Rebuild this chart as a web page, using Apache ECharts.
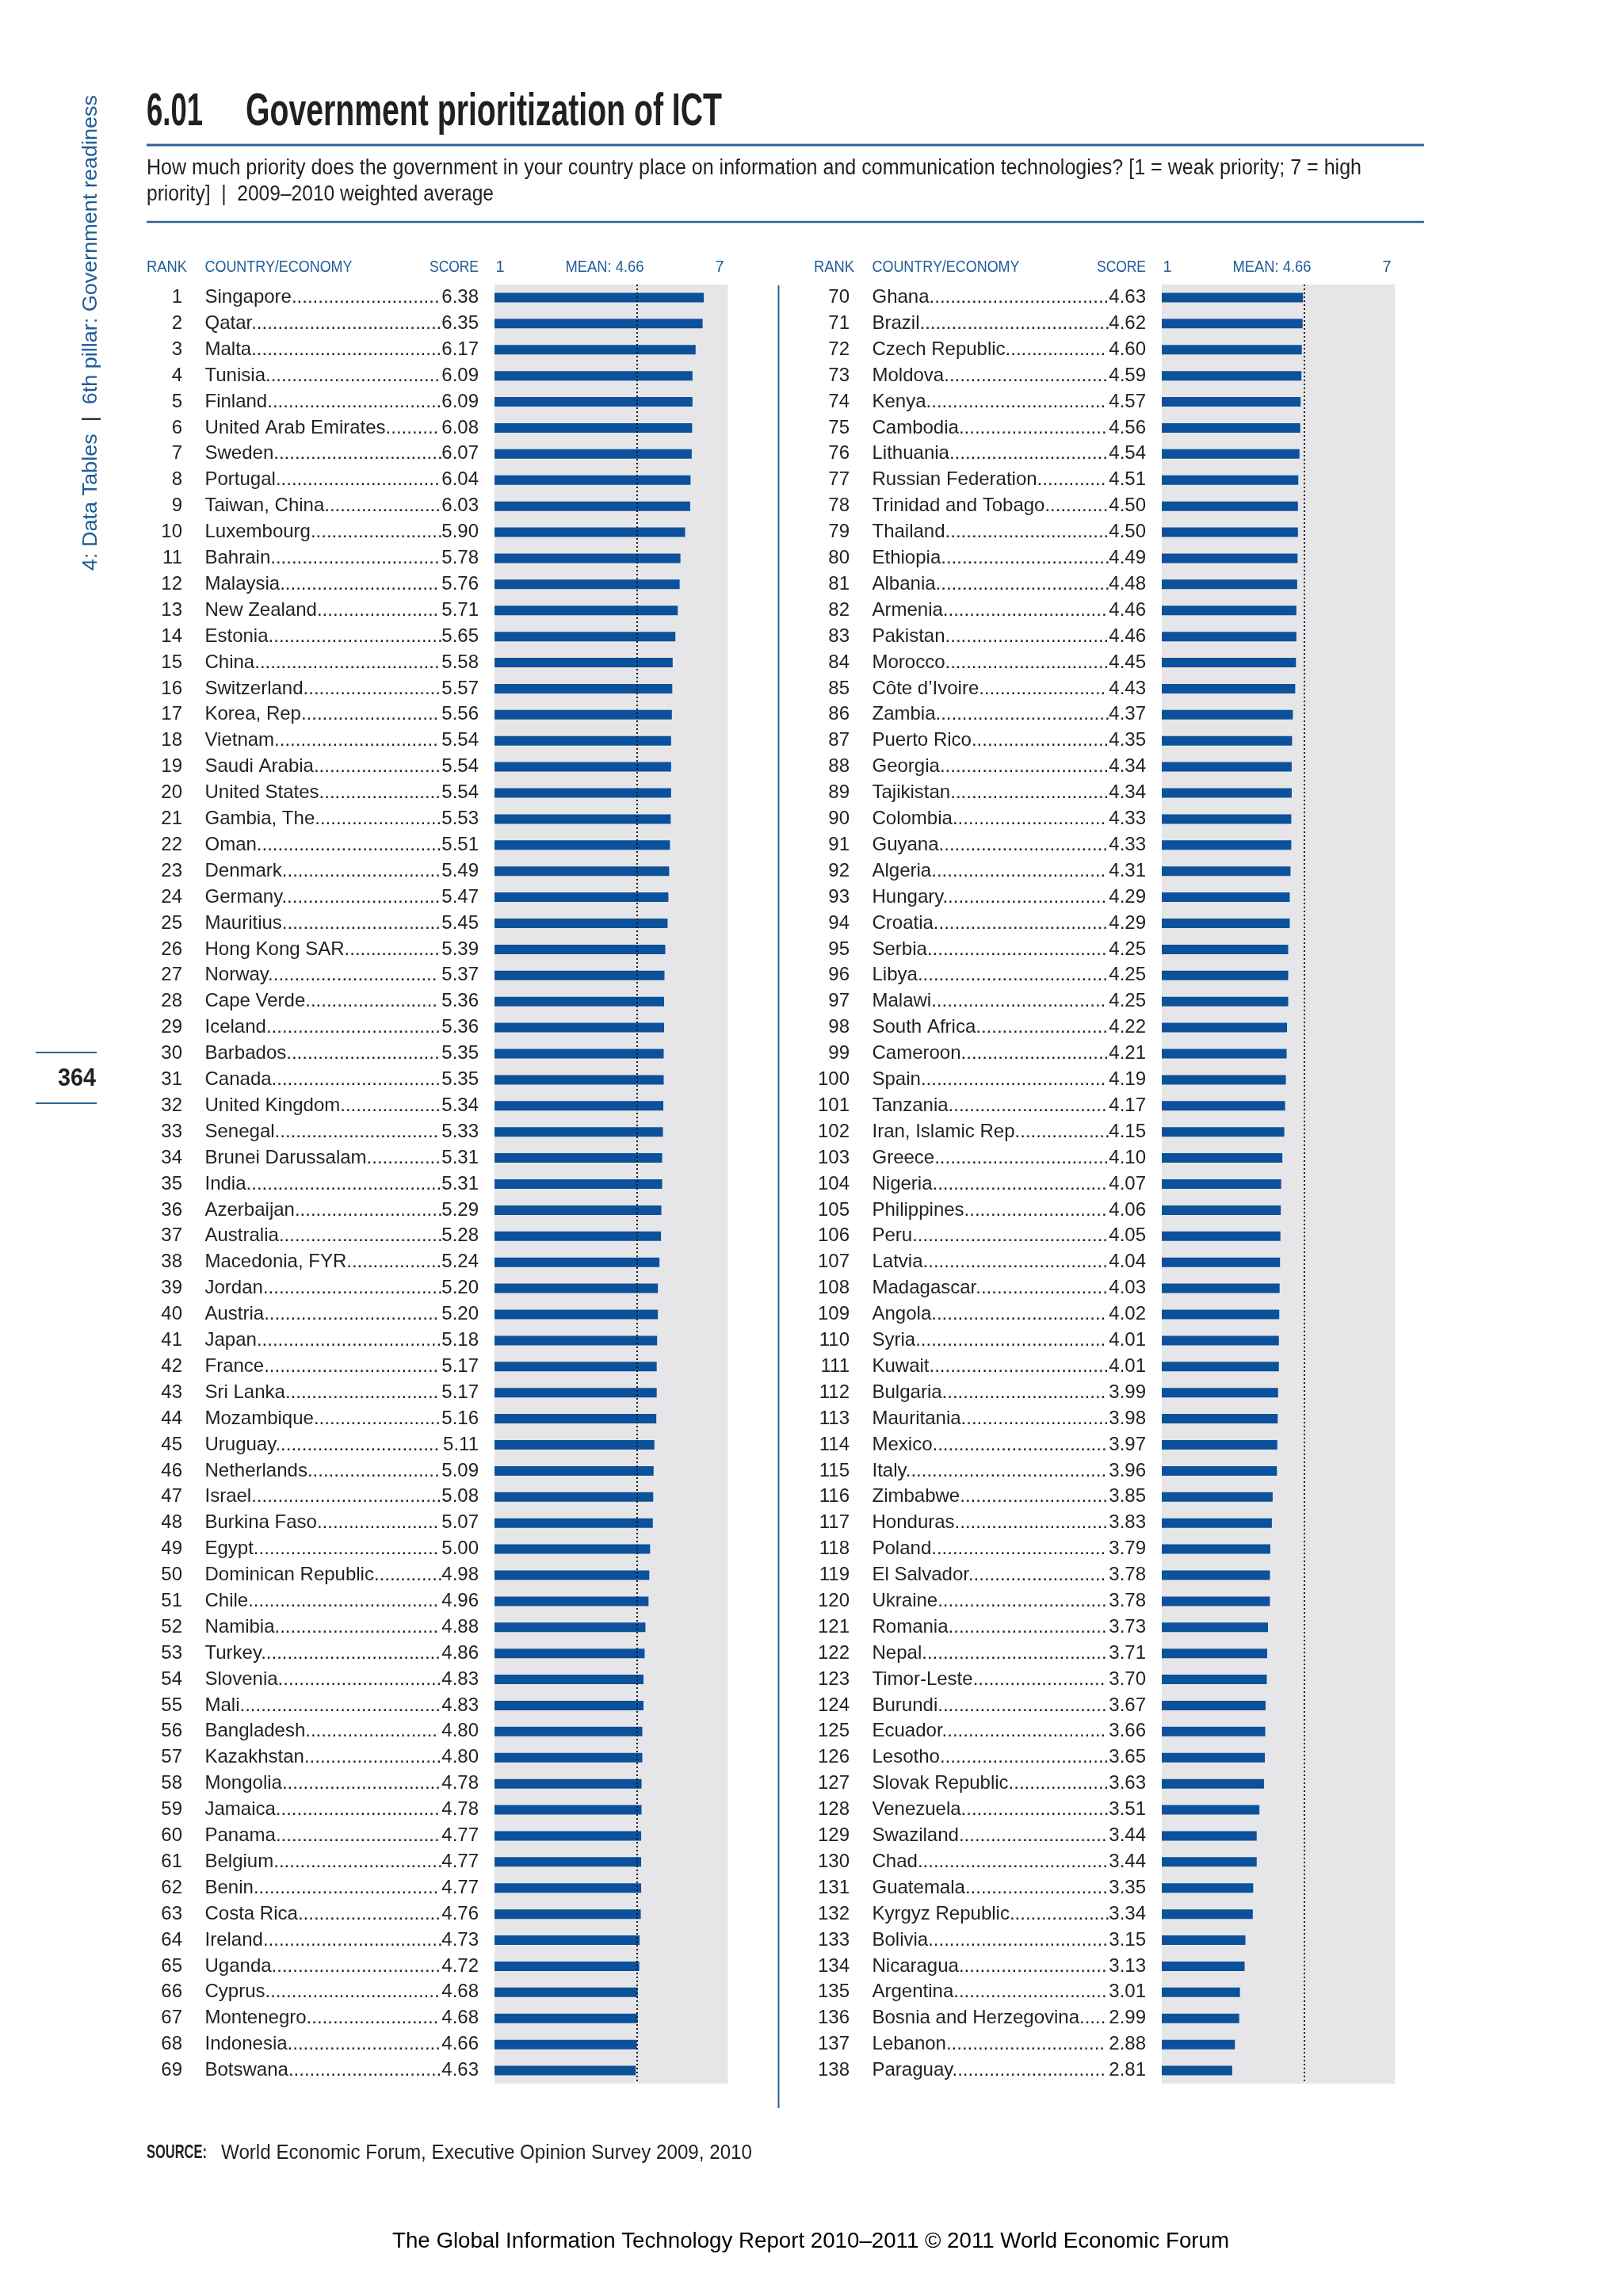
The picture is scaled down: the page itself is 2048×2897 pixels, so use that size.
<!DOCTYPE html>
<html><head><meta charset="utf-8">
<script src="https://cdn.jsdelivr.net/npm/echarts@6/dist/echarts.min.js"></script>
<style>html,body{margin:0;padding:0;background:#fff}#c{width:2048px;height:2897px}</style>
</head><body><div id="c"></div>
<script>
// ---------------- DATA ----------------
const countriesA = ["Singapore","Qatar","Malta","Tunisia","Finland","United Arab Emirates","Sweden","Portugal","Taiwan, China","Luxembourg","Bahrain","Malaysia","New Zealand","Estonia","China","Switzerland","Korea, Rep.","Vietnam","Saudi Arabia","United States","Gambia, The","Oman","Denmark","Germany","Mauritius","Hong Kong SAR","Norway","Cape Verde","Iceland","Barbados","Canada","United Kingdom","Senegal","Brunei Darussalam","India","Azerbaijan","Australia","Macedonia, FYR","Jordan","Austria","Japan","France","Sri Lanka","Mozambique","Uruguay","Netherlands","Israel","Burkina Faso","Egypt","Dominican Republic","Chile","Namibia","Turkey","Slovenia","Mali","Bangladesh","Kazakhstan","Mongolia","Jamaica","Panama","Belgium","Benin","Costa Rica","Ireland","Uganda","Cyprus","Montenegro","Indonesia","Botswana"];
const scoresA = [6.38,6.35,6.17,6.09,6.09,6.08,6.07,6.04,6.03,5.90,5.78,5.76,5.71,5.65,5.58,5.57,5.56,5.54,5.54,5.54,5.53,5.51,5.49,5.47,5.45,5.39,5.37,5.36,5.36,5.35,5.35,5.34,5.33,5.31,5.31,5.29,5.28,5.24,5.20,5.20,5.18,5.17,5.17,5.16,5.11,5.09,5.08,5.07,5.00,4.98,4.96,4.88,4.86,4.83,4.83,4.80,4.80,4.78,4.78,4.77,4.77,4.77,4.76,4.73,4.72,4.68,4.68,4.66,4.63];
const countriesB = ["Ghana","Brazil","Czech Republic","Moldova","Kenya","Cambodia","Lithuania","Russian Federation","Trinidad and Tobago","Thailand","Ethiopia","Albania","Armenia","Pakistan","Morocco","Côte d’Ivoire","Zambia","Puerto Rico","Georgia","Tajikistan","Colombia","Guyana","Algeria","Hungary","Croatia","Serbia","Libya","Malawi","South Africa","Cameroon","Spain","Tanzania","Iran, Islamic Rep.","Greece","Nigeria","Philippines","Peru","Latvia","Madagascar","Angola","Syria","Kuwait","Bulgaria","Mauritania","Mexico","Italy","Zimbabwe","Honduras","Poland","El Salvador","Ukraine","Romania","Nepal","Timor-Leste","Burundi","Ecuador","Lesotho","Slovak Republic","Venezuela","Swaziland","Chad","Guatemala","Kyrgyz Republic","Bolivia","Nicaragua","Argentina","Bosnia and Herzegovina","Lebanon","Paraguay"];
const scoresB = [4.63,4.62,4.60,4.59,4.57,4.56,4.54,4.51,4.50,4.50,4.49,4.48,4.46,4.46,4.45,4.43,4.37,4.35,4.34,4.34,4.33,4.33,4.31,4.29,4.29,4.25,4.25,4.25,4.22,4.21,4.19,4.17,4.15,4.10,4.07,4.06,4.05,4.04,4.03,4.02,4.01,4.01,3.99,3.98,3.97,3.96,3.85,3.83,3.79,3.78,3.78,3.73,3.71,3.70,3.67,3.66,3.65,3.63,3.51,3.44,3.44,3.35,3.34,3.15,3.13,3.01,2.99,2.88,2.81];
const startRankA = 1, startRankB = 70;
const meanScore = 4.66;
const axisMin = 1, axisMax = 7;
const headerLabels = ["RANK", "COUNTRY/ECONOMY", "SCORE", "1", "MEAN: 4.66", "7"];

// ---------------- LAYOUT ----------------
const FF = '"Liberation Sans", Arial, Helvetica, sans-serif';
const BLUE_TXT = '#1f5c99', RULE = '#2c6295', BAR = '#0b519c', GREY = '#e6e6e9', INK = '#231f20';
const GRID_TOP = 359, GRID_H = 2270, PLOT_W = 294.5, LEFT_X = 624, COL_OFF = 842;
const ROW_FS = 24, LABEL_MARGIN = 20, RANK_MARGIN = 394;
const W_NAME = 295.5, W_SCORE = 50;

const ctx = document.createElement('canvas').getContext('2d');
function textW(t, size, weight) { ctx.font = (weight || 'normal') + ' ' + size + 'px ' + FF; return ctx.measureText(t).width; }
const dotW = textW('.', ROW_FS);

function rowLabel(names, scores, i) {
  const sc = scores[i].toFixed(2);
  const scW = textW(sc, ROW_FS);
  const avail = W_NAME + (W_SCORE - scW) - 2;
  const nw = textW(names[i], ROW_FS);
  const cnt = Math.max(2, Math.round((avail - nw) / dotW));
  return '{n|' + names[i] + '.'.repeat(cnt) + '}{s|' + sc + '}';
}
const richRow = {
  n: { width: W_NAME, align: 'left', fontSize: ROW_FS, fontFamily: FF, color: INK },
  s: { width: W_SCORE, align: 'right', fontSize: ROW_FS, fontFamily: FF, color: INK }
};

function fitText(text, x, y, size, weight, targetW, color, align, extra) {
  const w = textW(text, size, weight);
  const font = (weight || 'normal') + ' ' + size + 'px ' + FF;
  return Object.assign({
    type: 'text', x: x, y: y, scaleX: targetW ? targetW / w : 1, silent: true,
    style: { text: text, font: font, fill: color, textAlign: align || 'left', align: align || 'left',
      textVerticalAlign: 'middle', verticalAlign: 'middle' }
  }, extra || {});
}
function hline(x1, x2, y, w, color) {
  return { type: 'line', silent: true, shape: { x1: x1, y1: y, x2: x2, y2: y }, style: { stroke: color || RULE, lineWidth: w } };
}

const graphics = [];
// Title
graphics.push(fitText('6.01', 185, 142, 57, 'bold', 71, INK));
graphics.push(fitText('Government prioritization of ICT', 310, 142, 57, 'bold', 601, INK));
graphics.push(hline(185, 1797, 183, 3));
graphics.push(fitText('How much priority does the government in your country place on information and communication technologies? [1 = weak priority; 7 = high', 185, 213, 27, 'normal', 1533, INK));
graphics.push(fitText('priority]  |  2009–2010 weighted average', 185, 246, 27, 'normal', 438, INK));
graphics.push(hline(185, 1797, 280, 2.5));
// Column headers
[0, COL_OFF].forEach(function (off) {
  graphics.push(fitText(headerLabels[0], 185 + off, 337, 20, 'normal', 51, BLUE_TXT, 'left'));
  graphics.push(fitText(headerLabels[1], 258.5 + off, 337, 20, 'normal', 186, BLUE_TXT, 'left'));
  graphics.push(fitText(headerLabels[2], 604 + off, 337, 20, 'normal', 62, BLUE_TXT, 'right'));
  graphics.push(fitText(headerLabels[3], 631 + off, 337, 20, 'normal', null, BLUE_TXT, 'center'));
  graphics.push(fitText(headerLabels[4], 763 + off, 337, 20, 'normal', 99, BLUE_TXT, 'center'));
  graphics.push(fitText(headerLabels[5], 908 + off, 337, 20, 'normal', null, BLUE_TXT, 'center'));
});
// Column separator
graphics.push({ type: 'line', silent: true, shape: { x1: 982.5, y1: 360, x2: 982.5, y2: 2660 }, style: { stroke: RULE, lineWidth: 2 } });
// Sidebar
(function () {
  const t1 = '4: Data Tables', sep = '  |  ', t2 = '6th pillar: Government readiness';
  const w = textW(t1 + sep + t2, 26);
  graphics.push({
    type: 'text', x: 114.5, y: 720, rotation: Math.PI / 2, scaleX: 600 / w, silent: true,
    style: {
      text: '{b|' + t1 + '}{k|' + sep + '}{b|' + t2 + '}', font: '26px ' + FF, textAlign: 'left', align: 'left',
      textVerticalAlign: 'middle', verticalAlign: 'middle',
      rich: { b: { fill: BLUE_TXT, color: BLUE_TXT, fontSize: 26, fontFamily: FF }, k: { fill: '#111', color: '#111', fontSize: 26, fontFamily: FF } }
    }
  });
})();
// Page number
graphics.push(hline(45, 122, 1328, 2));
graphics.push(hline(45, 122, 1392, 2));
graphics.push(fitText('364', 121, 1361, 31, 'bold', 48, INK, 'right'));
// Source + footer
graphics.push(fitText('SOURCE:', 185, 2717, 23, 'bold', 76, INK));
graphics.push(fitText('World Economic Forum, Executive Opinion Survey 2009, 2010', 279, 2717, 25, 'normal', 670, INK));
graphics.push(fitText('The Global Information Technology Report 2010–2011 © 2011 World Economic Forum', 495, 2828, 28, 'normal', 1056, '#000'));

function makeSeries(scores, idx) {
  return {
    type: 'bar', xAxisIndex: idx, yAxisIndex: idx, data: scores, barWidth: 12,
    itemStyle: { color: BAR }, silent: true,
    markLine: {
      silent: true, symbol: ['none', 'none'], label: { show: false },
      lineStyle: { type: [2, 3], color: '#1a1a1a', width: 2 },
      data: [{ xAxis: meanScore }]
    }
  };
}
function makeY(names, scores, idx) {
  return {
    type: 'category', gridIndex: idx, data: names, inverse: true,
    axisLine: { show: false }, axisTick: { show: false }, splitLine: { show: false },
    axisLabel: {
      interval: 0, margin: LABEL_MARGIN, rich: richRow,
      formatter: function (v, i) { return rowLabel(names, scores, i); }
    }
  };
}
function makeRankY(names, startRank, idx) {
  return {
    type: 'category', gridIndex: idx, data: names, inverse: true, position: 'left',
    axisLine: { show: false }, axisTick: { show: false }, splitLine: { show: false },
    axisLabel: {
      interval: 0, margin: RANK_MARGIN, align: 'right', fontSize: ROW_FS, fontFamily: FF, color: INK,
      formatter: function (v, i) { return String(startRank + i); }
    }
  };
}
function makeX(idx) {
  return { type: 'value', gridIndex: idx, min: axisMin, max: axisMax, show: false, splitLine: { show: false } };
}

const chart = echarts.init(document.getElementById('c'), null, { renderer: 'canvas' });
chart.setOption({
  animation: false,
  backgroundColor: '#ffffff',
  grid: [
    { left: LEFT_X, top: GRID_TOP, width: PLOT_W, height: GRID_H, show: true, backgroundColor: GREY, borderWidth: 0, containLabel: false, outerBoundsMode: 'none' },
    { left: LEFT_X + COL_OFF, top: GRID_TOP, width: PLOT_W, height: GRID_H, show: true, backgroundColor: GREY, borderWidth: 0, containLabel: false, outerBoundsMode: 'none' }
  ],
  xAxis: [makeX(0), makeX(1)],
  yAxis: [makeY(countriesA, scoresA, 0), makeY(countriesB, scoresB, 1), makeRankY(countriesA, startRankA, 0), makeRankY(countriesB, startRankB, 1)],
  series: [makeSeries(scoresA, 0), makeSeries(scoresB, 1)],
  graphic: graphics
});
</script>
</body></html>
